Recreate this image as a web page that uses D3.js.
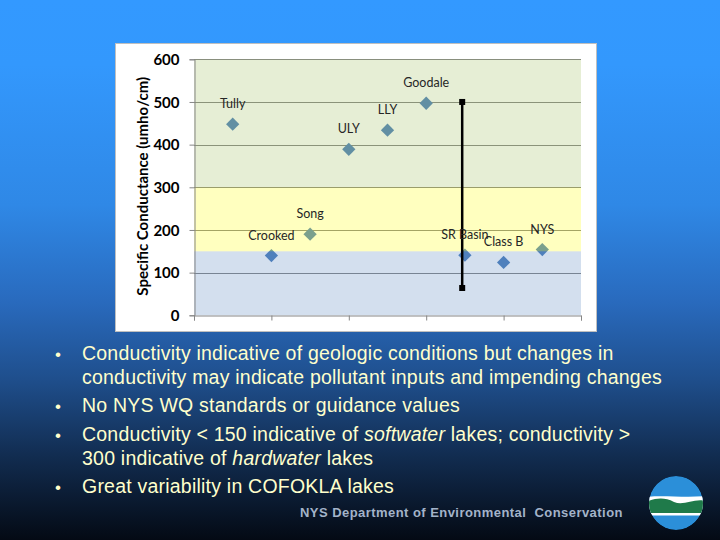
<!DOCTYPE html>
<html>
<head>
<meta charset="utf-8">
<script src="https://cdn.jsdelivr.net/npm/d3@7"></script>
<style>
  html, body { margin: 0; padding: 0; background: #000; }
  svg { display: block; }
</style>
</head>
<body>
<svg id="slide" width="720" height="540"></svg>
<script>
// ---------- data ----------
const lakes   = ["Tully", "Crooked", "Song", "ULY", "LLY", "Goodale", "SR Basin", "Class B", "NYS"];
const xPos    = [1, 2, 3, 4, 5, 6, 7, 8, 9];
const conduct = [448, 140, 190, 389, 434, 497, 141, 124, 154];
const yTicks  = [0, 100, 200, 300, 400, 500, 600];
const xTicks  = [0, 2, 4, 6, 8, 10];
const bandLow   = [0, 150, 300];
const bandHigh  = [150, 300, 600];
const bandColor = ["#4f81bd", "#ffff00", "#9bbb59"];
const rangeX = 6.93, rangeLow = 64, rangeHigh = 500;
const bullets = [
  [["Conductivity indicative of geologic conditions but changes in", false]],
  [["conductivity may indicate pollutant inputs and impending changes", false]],
  [["No NYS WQ standards or guidance values", false]],
  [["Conductivity < 150 indicative of ", false], ["softwater", true], [" lakes; conductivity >", false]],
  [["300 indicative of ", false], ["hardwater", true], [" lakes", false]],
  [["Great variability in COFOKLA lakes", false]]
];
const bulletStart = [true, false, true, true, false, true];
const footer = "NYS Department of Environmental\u00a0\u00a0Conservation";

// ---------- slide ----------
const svg = d3.select("#slide");
const defs = svg.append("defs");
const grad = defs.append("linearGradient").attr("id", "bg").attr("x1", 0).attr("y1", 0).attr("x2", 0).attr("y2", 1);
[[0, "#3399ff"], [0.12, "#3398fd"], [0.38, "#2f88e6"], [0.56, "#296abd"], [0.7, "#1f4f8d"], [0.85, "#112b4e"], [1, "#040a14"]]
  .forEach(([o, c]) => grad.append("stop").attr("offset", o).attr("stop-color", c));
svg.append("rect").attr("width", 720).attr("height", 540).attr("fill", "url(#bg)");

// chart box
svg.append("rect").attr("x", 115.5).attr("y", 43.5).attr("width", 481).attr("height", 288)
  .attr("fill", "#ffffff").attr("stroke", "#bfbfbf").attr("stroke-width", 1);

const plot = { left: 194, right: 581, top: 59.3, bottom: 315.3 };
const x = d3.scaleLinear().domain([0, 10]).range([plot.left, plot.right]);
const y = d3.scaleLinear().domain([0, 600]).range([plot.bottom, plot.top]);

const g = svg.append("g");

// gridlines
g.append("g").selectAll("line").data(yTicks.filter(d => d > 0)).join("line")
  .attr("x1", plot.left).attr("x2", plot.right)
  .attr("y1", d => Math.round(y(d)) + 0.5).attr("y2", d => Math.round(y(d)) + 0.5)
  .attr("stroke", "#868686").attr("stroke-width", 1);

// points (under the translucent bands)
const sym = d3.symbol().type(d3.symbolSquare).size(88);
g.append("g").selectAll("path").data(lakes).join("path")
  .attr("d", sym)
  .attr("transform", (d, i) => `translate(${x(xPos[i])},${y(conduct[i])}) rotate(45)`)
  .attr("fill", "#4f81bd");

// translucent bands
g.append("g").selectAll("rect").data(bandLow).join("rect")
  .attr("x", plot.left).attr("width", plot.right - plot.left)
  .attr("y", (d, i) => y(bandHigh[i])).attr("height", (d, i) => y(d) - y(bandHigh[i]))
  .attr("fill", (d, i) => bandColor[i]).attr("fill-opacity", 0.25);

// axes
const yAxis = d3.axisLeft(y).tickValues(yTicks).tickSize(5).tickPadding(10);
const ya = g.append("g").attr("transform", `translate(${plot.left + 0.5},0)`).call(yAxis);
ya.select(".domain").attr("stroke", "#868686");
ya.selectAll(".tick line").attr("stroke", "#868686");
ya.selectAll(".tick text").attr("font-family", "Lato, 'Open Sans', sans-serif")
  .attr("font-weight", "bold").attr("font-size", 15).attr("fill", "#000").attr("dy", "0.35em");

const xAxis = d3.axisBottom(x).tickValues(xTicks).tickSize(5).tickFormat("");
const xa = g.append("g").attr("transform", `translate(0,${Math.round(plot.bottom) + 0.5})`).call(xAxis);
xa.select(".domain").attr("stroke", "#868686");
xa.selectAll(".tick line").attr("stroke", "#868686");

// y axis title
g.append("text")
  .attr("transform", `translate(148,${(plot.top + plot.bottom) / 2 - 1}) rotate(-90)`)
  .attr("text-anchor", "middle")
  .attr("font-family", "Lato, 'Open Sans', sans-serif").attr("font-weight", "bold").attr("font-size", 15)
  .attr("fill", "#000")
  .text("Specific Conductance (umho/cm)");

// range bar
g.append("line")
  .attr("x1", x(rangeX)).attr("x2", x(rangeX))
  .attr("y1", y(rangeHigh)).attr("y2", y(rangeLow))
  .attr("stroke", "#000").attr("stroke-width", 2.5);
g.append("g").selectAll("rect").data([rangeLow, rangeHigh]).join("rect")
  .attr("x", x(rangeX) - 3).attr("y", d => y(d) - 3).attr("width", 6).attr("height", 6).attr("fill", "#000");

// point labels
g.append("g").selectAll("text").data(lakes).join("text")
  .attr("x", (d, i) => x(xPos[i]))
  .attr("y", (d, i) => y(conduct[i]) - 16)
  .attr("text-anchor", "middle")
  .attr("font-family", "Lato, 'Open Sans', sans-serif").attr("font-size", 12.5)
  .attr("fill", "#262626")
  .text(d => d);

// ---------- bullet text ----------
const baselines = [360, 384, 412, 440.5, 464.5, 492.5];
const tg = svg.append("g").attr("font-family", "'Liberation Sans', Arial, sans-serif")
  .attr("font-size", 19.5).attr("fill", "#ffffcc").attr("letter-spacing", 0.22);
bullets.forEach((parts, i) => {
  if (bulletStart[i]) {
    tg.append("text").attr("x", 55).attr("y", baselines[i]).attr("font-size", 17).text("\u2022");
  }
  const t = tg.append("text").attr("x", 82).attr("y", baselines[i]);
  parts.forEach(([s, it]) => {
    t.append("tspan").attr("font-style", it ? "italic" : "normal").text(s);
  });
});

// footer
svg.append("text").attr("x", 300).attr("y", 517)
  .attr("font-family", "'Liberation Sans', Arial, sans-serif").attr("font-weight", "bold")
  .attr("font-size", 13).attr("fill", "#a3b3c9").attr("letter-spacing", 0.45)
  .text(footer);

// logo
const lc = { cx: 676, cy: 503, r: 27 };
defs.append("clipPath").attr("id", "logoClip").append("circle")
  .attr("cx", lc.cx).attr("cy", lc.cy).attr("r", lc.r);
const logo = svg.append("g").attr("clip-path", "url(#logoClip)");
logo.append("circle").attr("cx", lc.cx).attr("cy", lc.cy).attr("r", lc.r).attr("fill", "#2b8fd9");
logo.append("path").attr("fill", "#ffffff")
  .attr("d", `M${lc.cx - 30},${lc.cy - 6} C${lc.cx - 15},${lc.cy - 8} ${lc.cx + 10},${lc.cy - 5} ${lc.cx + 30},${lc.cy - 7} L${lc.cx + 30},${lc.cy + 12.5} L${lc.cx - 30},${lc.cy + 12.5} Z`);
logo.append("path").attr("fill", "#1f7a4a")
  .attr("d", `M${lc.cx - 30},${lc.cy - 1} C${lc.cx - 20},${lc.cy - 5} ${lc.cx - 12},${lc.cy - 6} ${lc.cx - 2},${lc.cy - 1} C${lc.cx + 8},${lc.cy + 3} ${lc.cx + 18},${lc.cy - 5} ${lc.cx + 30},${lc.cy - 2} L${lc.cx + 30},${lc.cy + 10} L${lc.cx - 30},${lc.cy + 10} Z`);
</script>
</body>
</html>
